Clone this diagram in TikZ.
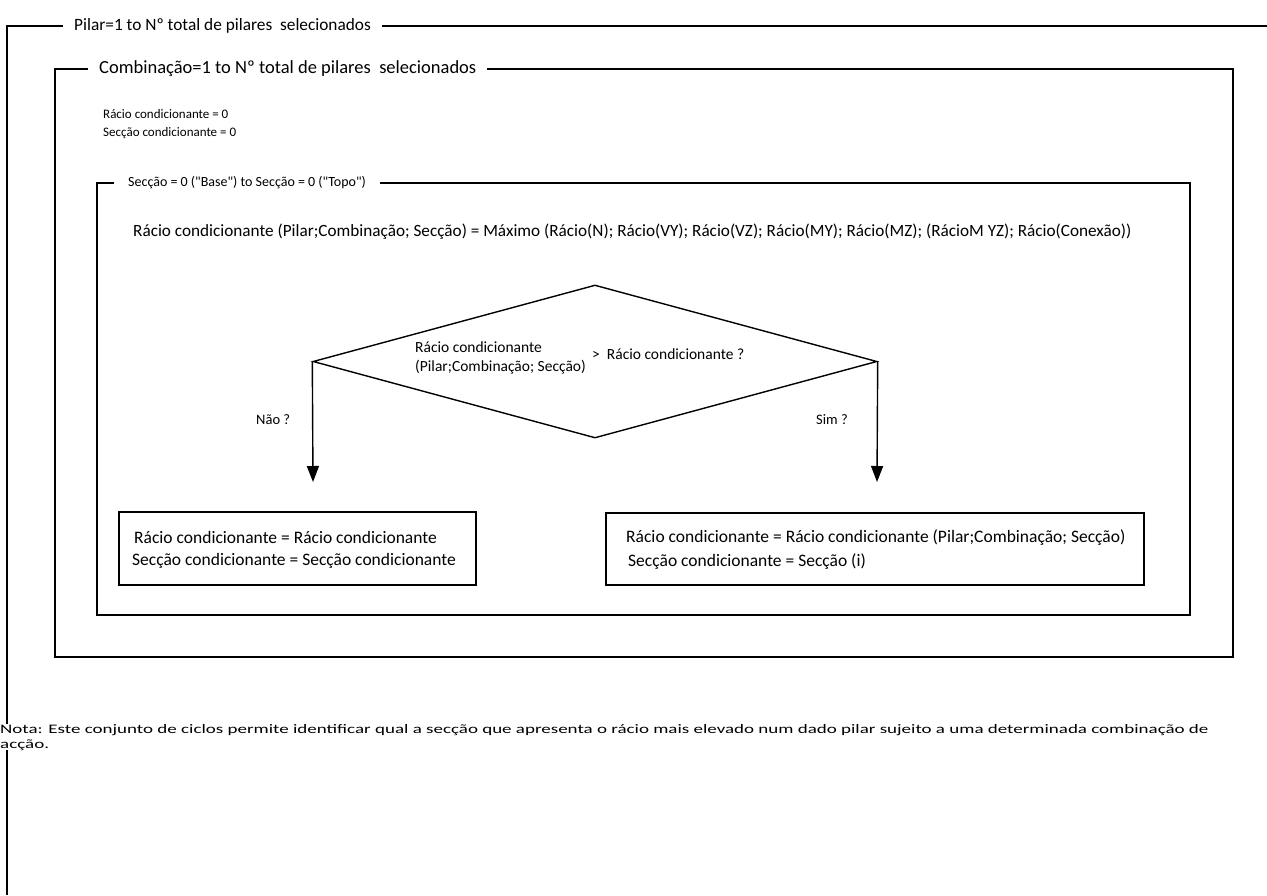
\documentclass[tikz,border=0pt]{standalone}
\usepackage{fontspec}
\setmainfont{Carlito}
\newfontfamily\plainfont{Carlito}[Ligatures=TeXOff]
\newfontfamily\notefont[FakeStretch=1.46]{Carlito}
\usetikzlibrary{shapes.geometric,arrows.meta}
\tikzset{
  frame/.style={line width=1.6pt, draw=black},
  ttl/.style={fill=white, inner xsep=11pt, inner ysep=2pt, anchor=west, font=\fontsize{17.3}{20}\selectfont},
  txt/.style={inner sep=0pt, anchor=west, font=\fontsize{13}{19}\selectfont},
  boxtxt/.style={inner sep=0pt, anchor=west, font=\fontsize{17.5}{20}\selectfont},
  dtxt/.style={inner sep=0pt, anchor=west, font=\fontsize{15.5}{19}\selectfont},
  res/.style={draw, line width=1.4pt, minimum width=357pt, minimum height=73pt, inner sep=0pt},
  arr/.style={line width=1.4pt, -{Triangle[width=12pt,length=16pt]}},
}
\begin{document}
\begin{tikzpicture}[x=1pt,y=-1pt]
\useasboundingbox (0,0) rectangle (1267,895);
% outer loop
\coordinate (oTR) at (1267,26);
\coordinate (oTL) at (7,26);
\coordinate (oBL) at (7,895);
\draw[frame] (oTR) -- (oTL) -- (oBL);
\node[ttl] (tPilar) at (63,26) {Pilar=1 to Nº total de pilares\ \ selecionados};
% middle loop
\draw[frame] (55,69) rectangle (1233,657);
\node[ttl, font=\fontsize{18.5}{21}\selectfont] (tComb) at (88,69) {Combinação=1 to Nº total de pilares\ \ selecionados};
\node[txt] (r0) at (103,114) {Rácio condicionante = 0};
\node[txt] (s0) at (103,133) {Secção condicionante = 0};
% inner loop
\draw[frame] (97,183) rectangle (1190,615);
\node[ttl, inner xsep=14pt, font=\plainfont\fontsize{14}{17}\selectfont] (tSec) at (114,183) {Secção = 0 ("Base") to Secção = 0 ("Topo")};
\node[txt, font=\fontsize{17.2}{20}\selectfont] (formula) at (133,232) {Rácio condicionante (Pilar;Combinação; Secção) = Máximo (Rácio(N); Rácio(VY); Rácio(VZ); Rácio(MY); Rácio(MZ); (RácioM YZ); Rácio(Conexão))};
% decision
\node[draw, diamond, line width=1.4pt, minimum width=564pt, minimum height=153pt, inner sep=0pt] (dia) at (595,361.5) {};
\node[dtxt, align=left] (dtxt1) at (415,357.5) {Rácio condicionante\\(Pilar;Combinação; Secção)};
\node[dtxt] (dtxt2) at (592,354) {>\ \ Rácio condicionante ?};
% branches
\coordinate (aL) at (313,482);
\coordinate (aR) at (877,482);
\draw[arr] (dia.west) -- (aL);
\draw[arr] (dia.east) -- (aR);
\node[dtxt, font=\fontsize{14.5}{17}\selectfont] (nao) at (256,420) {Não ?};
\node[dtxt, font=\fontsize{14.5}{17}\selectfont] (sim) at (816,420) {Sim ?};
% result boxes
\node[res] (bL) at (297.5,548.5) {};
\node[boxtxt] (bL1) at (134,537) {Rácio condicionante = Rácio condicionante};
\node[boxtxt] (bL2) at (132,561) {Secção condicionante = Secção condicionante};
\node[res, minimum width=538pt, minimum height=72pt] (bR) at (875,549) {};
\node[boxtxt] (bR1) at (626,538) {Rácio condicionante = Rácio condicionante (Pilar;Combinação; Secção)};
\node[boxtxt] (bR2) at (628,562) {Secção condicionante = Secção (i)};
% note
\node[fill=white, inner sep=0pt, anchor=north west, align=left, font=\notefont\fontsize{13}{15}\selectfont] (nota) at (0,724) {Nota: Este conjunto de ciclos permite identificar qual a secção que apresenta o rácio mais elevado num dado pilar sujeito a uma determinada combinação de\\acção.};
\end{tikzpicture}
\end{document}
